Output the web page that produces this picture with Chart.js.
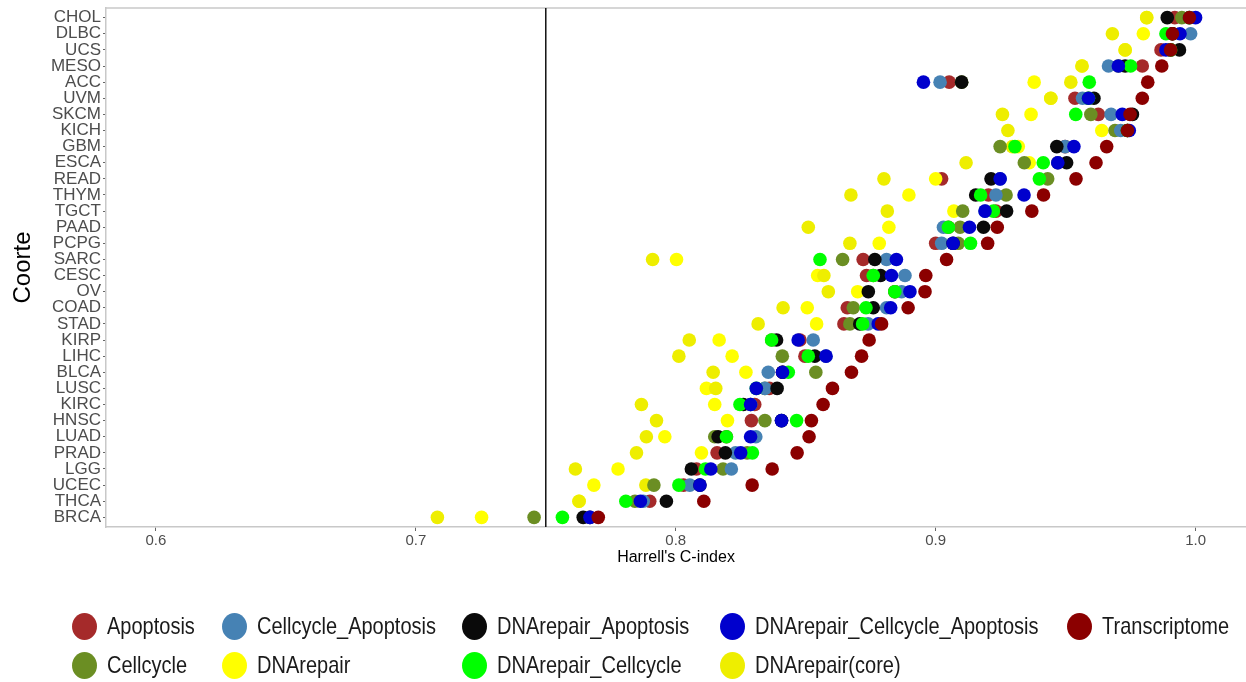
<!DOCTYPE html>
<html>
<head>
<meta charset="utf-8">
<title>Harrell's C-index por coorte</title>
<script src="https://cdn.jsdelivr.net/npm/chart.js@4"></script>
<style>
  body { margin: 0; background: #fff; font-family: "Liberation Sans", Arial, sans-serif; }
  #wrap { position: relative; width: 1246px; height: 682px; }
  #legend {
    position: absolute; left: 72px; top: 607px;
    display: grid; grid-template-columns: 150px 240px 258px 347px auto;
    grid-template-rows: 39px 39px; grid-auto-flow: column;
  }
  .item { display: flex; align-items: center; font-size: 20px; color: #1a1a1a; white-space: nowrap; }
  .dot { width: 25px; height: 27px; border-radius: 50%; margin-right: 10px; flex: none; }
  .item span { display: inline-block; transform: scaleY(1.2); }
</style>
</head>
<body>
<div id="wrap">
  <canvas id="cindex"></canvas>
  <div id="legend"></div>
</div>
<script>
// cohorts, top to bottom
const cohorts = ['CHOL', 'DLBC', 'UCS', 'MESO', 'ACC', 'UVM', 'SKCM', 'KICH', 'GBM', 'ESCA',
  'READ', 'THYM', 'TGCT', 'PAAD', 'PCPG', 'SARC', 'CESC', 'OV', 'COAD', 'STAD', 'KIRP', 'LIHC',
  'BLCA', 'LUSC', 'KIRC', 'HNSC', 'LUAD', 'PRAD', 'LGG', 'UCEC', 'THCA', 'BRCA'];

// C-index per signature, same order as cohorts
const apoptosis = [0.992, 0.9911, 0.9867, 0.9795, 0.9052, 0.9536, 0.9626, 0.9738, 0.9498, 0.947,
  0.9023, 0.9203, 0.9232, 0.9049, 0.900, 0.8721, 0.8734, 0.8843, 0.866, 0.8647, 0.8478, 0.8497,
  0.8411, 0.836, 0.8304, 0.8291, 0.8195, 0.8159, 0.808, 0.803, 0.790, 0.767];
const cellcycle = [0.9947, 0.9911, 0.9904, 0.9703, 0.910, 0.9588, 0.9597, 0.969, 0.9248, 0.9341,
  0.9431, 0.9271, 0.9104, 0.9094, 0.9087, 0.8642, 0.876, 0.8843, 0.8683, 0.867, 0.8369, 0.841,
  0.8539, 0.8343, 0.8288, 0.8343, 0.815, 0.8275, 0.8182, 0.7916, 0.7843, 0.7455];
const cellcycleApoptosis = [0.9976, 0.9981, 0.9904, 0.9665, 0.9017, 0.9565, 0.9675, 0.9712, 0.9498, 0.947,
  0.9248, 0.9232, 0.919, 0.903, 0.9023, 0.8811, 0.8882, 0.8869, 0.8811, 0.874, 0.8529, 0.8578,
  0.8356, 0.8343, 0.8288, 0.8407, 0.8308, 0.823, 0.8214, 0.8054, 0.7875, 0.767];
const dnaRepair = [0.9812, 0.9799, 0.9729, 0.9563, 0.9379, 0.9443, 0.9367, 0.9639, 0.9318, 0.936,
  0.900, 0.8897, 0.907, 0.882, 0.8783, 0.8003, 0.8546, 0.87, 0.8506, 0.8542, 0.8167, 0.8217,
  0.827, 0.8118, 0.815, 0.8199, 0.7958, 0.8099, 0.7778, 0.7685, 0.7628, 0.7253];
const dnaRepairApoptosis = [0.9891, 0.9911, 0.9938, 0.9729, 0.910, 0.9609, 0.9757, 0.9738, 0.9466, 0.9504,
  0.9213, 0.9154, 0.9273, 0.9184, 0.9067, 0.8766, 0.8788, 0.8741, 0.876, 0.8708, 0.8388, 0.8535,
  0.8411, 0.839, 0.826, 0.8407, 0.8163, 0.8191, 0.806, 0.8093, 0.7964, 0.7644];
const dnaRepairCellcycle = [0.9976, 0.9886, 0.9904, 0.975, 0.9591, 0.9588, 0.9539, 0.9738, 0.9305, 0.9414,
  0.9399, 0.9173, 0.9222, 0.9049, 0.9134, 0.8555, 0.876, 0.8843, 0.8732, 0.8719, 0.8369, 0.851,
  0.8433, 0.831, 0.8247, 0.8465, 0.8195, 0.8295, 0.8114, 0.8012, 0.7808, 0.7564];
const dnaRepairCellcycleApoptosis = [1.000, 0.994, 0.9886, 0.9703, 0.8953, 0.9588, 0.9718, 0.9745, 0.9532, 0.947,
  0.9248, 0.934, 0.919, 0.913, 0.9067, 0.8849, 0.883, 0.8901, 0.8827, 0.8779, 0.8471, 0.8578,
  0.8411, 0.831, 0.8288, 0.8407, 0.8288, 0.825, 0.8135, 0.8093, 0.7864, 0.767];
const dnaRepairCore = [0.9812, 0.968, 0.9729, 0.9563, 0.952, 0.9443, 0.9257, 0.9278, 0.9295, 0.9117,
  0.8801, 0.8674, 0.8814, 0.851, 0.867, 0.7911, 0.857, 0.8587, 0.8413, 0.8317, 0.8052, 0.8012,
  0.8144, 0.8154, 0.7868, 0.7926, 0.7887, 0.7849, 0.7614, 0.7885, 0.7628, 0.7083];
const transcriptome = [0.9976, 0.9911, 0.9904, 0.987, 0.9816, 0.9795, 0.9748, 0.9738, 0.9658, 0.9617,
  0.954, 0.9415, 0.937, 0.9237, 0.920, 0.9042, 0.8962, 0.8959, 0.8894, 0.8792, 0.8744, 0.8715,
  0.8676, 0.8603, 0.8567, 0.8522, 0.8513, 0.8467, 0.8371, 0.8294, 0.8108, 0.7702];

const xTicks = [0.6, 0.7, 0.8, 0.9, 1.0];
const cutoff = 0.75;

// legend order; layer = paint order (0 painted first)
const series = [
  { name: 'Apoptosis', color: '#a52a2a', values: apoptosis, layer: 0 },
  { name: 'Cellcycle', color: '#6b8e23', values: cellcycle, layer: 3 },
  { name: 'Cellcycle_Apoptosis', color: '#4682b4', values: cellcycleApoptosis, layer: 4 },
  { name: 'DNArepair', color: '#ffff00', values: dnaRepair, layer: 1 },
  { name: 'DNArepair_Apoptosis', color: '#0a0a0a', values: dnaRepairApoptosis, layer: 5 },
  { name: 'DNArepair_Cellcycle', color: '#00ff00', values: dnaRepairCellcycle, layer: 6 },
  { name: 'DNArepair_Cellcycle_Apoptosis', color: '#0000cd', values: dnaRepairCellcycleApoptosis, layer: 7 },
  { name: 'DNArepair(core)', color: '#eeee00', values: dnaRepairCore, layer: 2 },
  { name: 'Transcriptome', color: '#8b0000', values: transcriptome, layer: 8 }
];

Chart.defaults.font.family = '"Liberation Sans", Arial, sans-serif';

// top border of the panel + vertical reference line
const panelLines = {
  id: 'panelLines',
  beforeDatasetsDraw(chart) {
    const { ctx, chartArea: a, scales: { x } } = chart;
    ctx.save();
    ctx.strokeStyle = '#c8c8c8';
    ctx.lineWidth = 1.5;
    ctx.beginPath();
    ctx.moveTo(a.left, a.top);
    ctx.lineTo(a.right, a.top);
    ctx.stroke();
    const px = x.getPixelForValue(cutoff);
    ctx.strokeStyle = '#111';
    ctx.lineWidth = 1.5;
    ctx.beginPath();
    ctx.moveTo(px, a.top);
    ctx.lineTo(px, a.bottom);
    ctx.stroke();
    ctx.restore();
  }
};

const datasets = series.map(s => ({
  label: s.name,
  data: s.values.map((v, i) => ({ x: v, y: i })),
  backgroundColor: s.color,
  borderWidth: 0,
  pointRadius: 6.8,
  pointHoverRadius: 6.8,
  order: 8 - s.layer
}));

new Chart(document.getElementById('cindex'), {
  type: 'scatter',
  data: { datasets },
  options: {
    responsive: true,
    maintainAspectRatio: false,
    animation: false,
    layout: { autoPadding: false, padding: { top: 8, right: 0, bottom: 115, left: 0 } },
    plugins: { legend: { display: false }, tooltip: { enabled: false } },
    scales: {
      x: {
        type: 'linear',
        min: 0.5808,
        max: 1.0194,
        afterBuildTicks: s => { s.ticks = xTicks.map(v => ({ value: v })); },
        afterFit: s => { s.height = 40; s.paddingLeft = 0; s.paddingRight = 0; },
        ticks: { callback: v => v.toFixed(1), color: '#4d4d4d', font: { size: 15 }, padding: 1 },
        grid: { drawOnChartArea: false, tickLength: 4, tickColor: '#666' },
        border: { color: '#c8c8c8', width: 1.5 },
        title: { display: true, text: "Harrell's C-index", color: '#000', font: { size: 16 }, padding: { top: 0, bottom: 0 } }
      },
      y: {
        type: 'linear',
        reverse: true,
        min: -0.6,
        max: cohorts.length - 0.4,
        afterBuildTicks: s => { s.ticks = cohorts.map((_, i) => ({ value: i })); },
        afterFit: s => { s.width = 106; s.paddingTop = 0; s.paddingBottom = 0; },
        ticks: { callback: v => cohorts[v], color: '#4d4d4d', font: { size: 17 }, padding: 2, autoSkip: false },
        grid: { drawOnChartArea: false, tickLength: 3, tickColor: '#666' },
        border: { color: '#c8c8c8', width: 1.5 },
        title: { display: true, text: 'Coorte', color: '#000', font: { size: 24 }, padding: { top: 9 } }
      }
    }
  },
  plugins: [panelLines]
});

// legend: two rows, filled column by column
const legend = document.getElementById('legend');
series.forEach(s => {
  const item = document.createElement('div');
  item.className = 'item';
  item.innerHTML = `<div class="dot" style="background:${s.color}"></div><span>${s.name}</span>`;
  legend.appendChild(item);
});
</script>
</body>
</html>
